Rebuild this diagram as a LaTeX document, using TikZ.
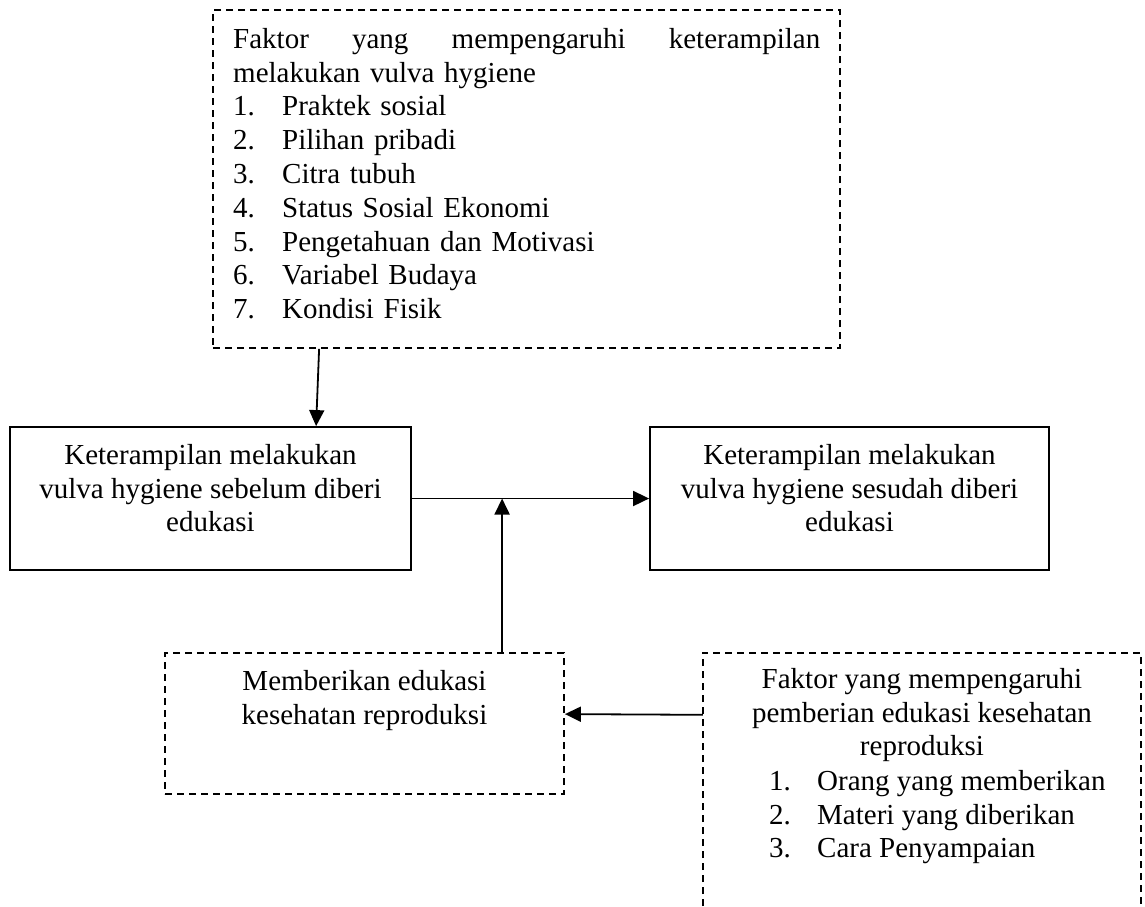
\documentclass[tikz,border=0pt]{standalone}
\usepackage{fontspec}
\setmainfont{Liberation Serif}
\usetikzlibrary{arrows.meta}
\newcommand\tstrut{\rule{0pt}{20pt}}
\begin{document}
\begin{tikzpicture}[x=1pt,y=-1pt,
  solidbox/.style={draw, line width=1.8pt, inner sep=0pt},
  dbox/.style={draw, line width=1.8pt, dash pattern=on 7pt off 5pt, inner sep=0pt},
  txt/.style={inner sep=0pt, font=\fontsize{29}{33.8}\selectfont},
  arr/.style={line width=1.8pt, -{Triangle[length=16pt,width=15pt]}}]
\useasboundingbox (0,0) rectangle (1145,906);
% boxes
\node[dbox, minimum width=627pt, minimum height=338pt] (top) at (526.5,179) {};
\node[solidbox, minimum width=401pt, minimum height=143pt] (left) at (210.5,498.5) {};
\node[solidbox, minimum width=399pt, minimum height=143pt] (right) at (849.5,498.5) {};
\node[dbox, minimum width=399pt, minimum height=141pt] (bl) at (364.5,723.5) {};
\node[inner sep=0pt, minimum width=438pt, minimum height=253pt] (br) at (922,779.5) {};
\draw[dbox] (br.south west) -- (br.north west) -- (br.north east) -- (br.south east);
% texts
\node[txt, anchor=north west, text width=587pt, align=left] (toptext) at (233,28)
  {\tstrut\makebox[587pt][l]{Faktor\hfill yang\hfill mempengaruhi\hfill keterampilan}\\
   melakukan vulva hygiene\\
   \makebox[49pt][l]{1.}Praktek sosial\\
   \makebox[49pt][l]{2.}Pilihan pribadi\\
   \makebox[49pt][l]{3.}Citra tubuh\\
   \makebox[49pt][l]{4.}Status Sosial Ekonomi\\
   \makebox[49pt][l]{5.}Pengetahuan dan Motivasi\\
   \makebox[49pt][l]{6.}Variabel Budaya\\
   \makebox[49pt][l]{7.}Kondisi Fisik};
\node[txt, anchor=north, align=center] (lefttext) at (210.5,444)
  {\tstrut Keterampilan melakukan\\vulva hygiene sebelum diberi\\edukasi};
\node[txt, anchor=north, align=center] (righttext) at (849.5,444)
  {\tstrut Keterampilan melakukan\\vulva hygiene sesudah diberi\\edukasi};
\node[txt, anchor=north, align=center] (bltext) at (364.5,670)
  {\tstrut Memberikan edukasi\\kesehatan reproduksi};
\node[txt, anchor=north, align=center] (brhead) at (922,668)
  {\tstrut Faktor yang mempengaruhi\\pemberian edukasi kesehatan\\reproduksi};
\node[txt, anchor=north west, align=left] (brlist) at (769,770)
  {\tstrut\makebox[48pt][l]{1.}Orang yang memberikan\\
   \makebox[48pt][l]{2.}Materi yang diberikan\\
   \makebox[48pt][l]{3.}Cara Penyampaian};
% connectors
\draw[arr] ([xshift=107pt]top.south west) -- ([xshift=307pt]left.north west);
\draw[arr] (left.east) -- (right.west);
\coordinate (v0) at ([xshift=338pt]bl.north west);
\draw[arr] (v0) -- (v0 |- left.east);
\draw[arr] ([yshift=-62pt]br.north west) -- ([yshift=-62pt]bl.north east);
\end{tikzpicture}
\end{document}
